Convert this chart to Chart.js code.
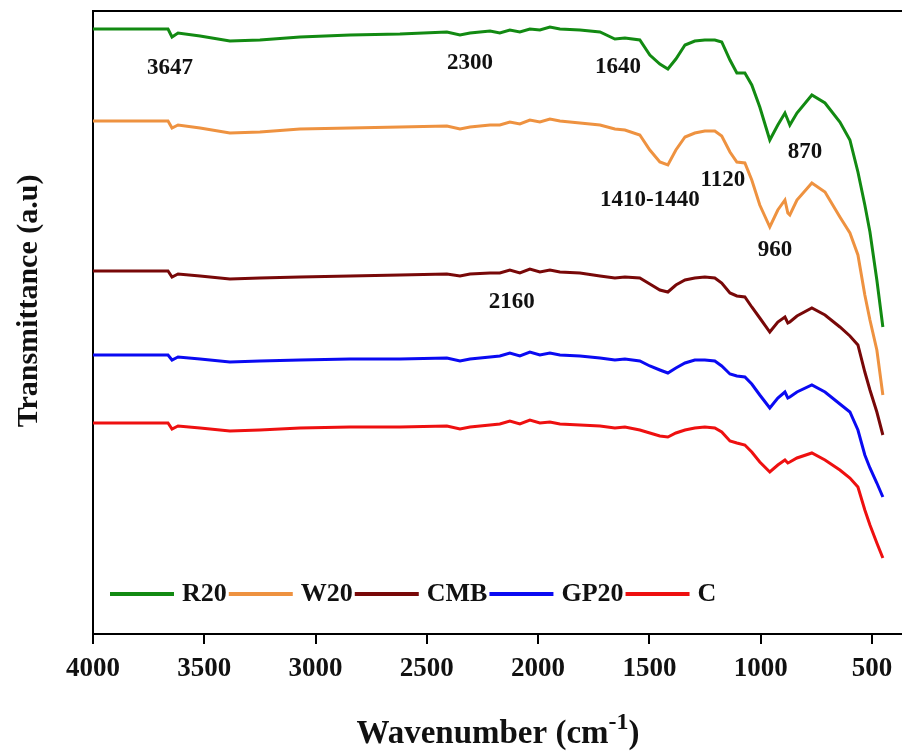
<!DOCTYPE html>
<html>
<head>
    <meta charset="utf-8">
    <script src="https://cdn.jsdelivr.net/npm/chart.js@4.4.0/dist/chart.umd.min.js"></script>
    <style>
        body { margin: 0; background: #fff; overflow: hidden; }
        #ftir { display: block; }
    </style>
</head>
<body>
    <canvas id="ftir" width="902" height="751"></canvas>
    <script>
        // wavenumber (cm-1) shared by all spectra
        const wavenumbers = [4000, 3834, 3663, 3645, 3618, 3519, 3385, 3250, 3070, 2845,
            2621, 2410, 2351, 2306, 2216, 2172, 2127, 2082, 2037, 1992,
            1947, 1902, 1812, 1722, 1655, 1610, 1543, 1498, 1453, 1417,
            1381, 1340, 1296, 1251, 1206, 1175, 1138, 1107, 1071, 1040,
            1004, 959, 923, 891, 878, 869, 837, 770, 711, 644,
            599, 563, 532, 509, 478, 451];

        // transmittance, arbitrary units (curves stacked)
        const r20 = [605, 605, 605, 597, 601, 598, 593, 594, 597, 599,
            600, 602, 599, 601, 603, 601, 604, 602, 605, 604,
            607, 605, 604, 602, 595, 596, 594, 579, 570, 565,
            575, 589, 593, 594, 594, 592, 574, 561, 561, 549,
            527, 494, 509, 521, 514, 509, 521, 539, 531, 512,
            494, 462, 429, 402, 354, 307];
        const w20 = [513, 513, 513, 506, 509, 506, 501, 502, 505, 506,
            507, 508, 505, 507, 509, 509, 512, 510, 514, 512,
            515, 513, 511, 509, 505, 504, 499, 484, 472, 469,
            484, 497, 501, 503, 503, 498, 482, 472, 471, 454,
            429, 407, 424, 434, 421, 419, 434, 451, 442, 417,
            401, 379, 339, 314, 284, 239];
        const cmb = [363, 363, 363, 357, 360, 358, 355, 356, 357, 358,
            359, 360, 358, 360, 361, 361, 364, 361, 365, 362,
            364, 362, 361, 358, 356, 357, 356, 350, 344, 342,
            349, 354, 356, 357, 356, 351, 341, 338, 337, 327,
            316, 302, 312, 317, 311, 312, 318, 326, 319, 307,
            298, 289, 262, 244, 222, 199];
        const gp20 = [279, 279, 279, 274, 277, 275, 272, 273, 274, 275,
            275, 276, 273, 275, 277, 278, 281, 278, 282, 279,
            281, 279, 278, 276, 274, 275, 273, 268, 264, 261,
            266, 271, 274, 274, 273, 268, 260, 258, 257, 250,
            239, 226, 236, 242, 236, 237, 242, 249, 242, 230,
            222, 204, 179, 166, 151, 137];
        const c = [211, 211, 211, 205, 208, 206, 203, 204, 206, 207,
            207, 208, 205, 207, 209, 210, 213, 210, 214, 211,
            212, 210, 209, 208, 206, 207, 204, 201, 198, 197,
            201, 204, 206, 207, 206, 202, 193, 191, 189, 182,
            172, 162, 169, 174, 171, 172, 176, 181, 174, 164,
            156, 147, 124, 109, 91, 76];

        const seriesNames = ['R20', 'W20', 'CMB', 'GP20', 'C'];
        const seriesColors = ['#128a12', '#ee9240', '#780808', '#0a0af2', '#ee1010'];
        const seriesValues = [r20, w20, cmb, gp20, c];

        const xTicks = [4000, 3500, 3000, 2500, 2000, 1500, 1000, 500];

        // peak labels: text, wavenumber, value
        const peakText = ['3647', '2300', '1640', '1410-1440', '1120', '960', '870', '2160'];
        const peakWave = [3654, 2306, 1641, 1498, 1170, 936, 801, 2118];
        const peakVal = [566, 571, 567, 434, 454, 384, 482, 332];

        const serif = "'Liberation Serif', 'Times New Roman', serif";

        const frameAndText = {
            id: 'frameAndText',
            afterDraw: function (chart) {
                const ctx = chart.ctx;
                const area = chart.chartArea;
                const xs = chart.scales.x, ys = chart.scales.y;
                ctx.save();
                // top frame line
                ctx.strokeStyle = '#000';
                ctx.lineWidth = 2;
                ctx.beginPath();
                ctx.moveTo(area.left, area.top);
                ctx.lineTo(chart.width, area.top);
                ctx.stroke();

                // peak labels
                ctx.fillStyle = '#111';
                ctx.font = 'bold 23px ' + serif;
                ctx.textAlign = 'center';
                ctx.textBaseline = 'middle';
                for (let i = 0; i < peakText.length; i++) {
                    ctx.fillText(peakText[i], xs.getPixelForValue(peakWave[i]), ys.getPixelForValue(peakVal[i]));
                }

                // legend inside plot
                let lx = 110;
                const ly = 594;
                ctx.font = 'bold 26px ' + serif;
                ctx.textAlign = 'left';
                chart.data.datasets.forEach(function (ds) {
                    ctx.strokeStyle = ds.borderColor;
                    ctx.lineWidth = 4;
                    ctx.beginPath();
                    ctx.moveTo(lx, ly);
                    ctx.lineTo(lx + 64, ly);
                    ctx.stroke();
                    ctx.fillStyle = '#111';
                    ctx.fillText(ds.label, lx + 72, ly);
                    lx += 72 + ctx.measureText(ds.label).width + 2;
                });

                // x title with superscript
                ctx.fillStyle = '#111';
                ctx.textBaseline = 'alphabetic';
                const main = 'Wavenumber (cm';
                ctx.font = 'bold 33px ' + serif;
                const w1 = ctx.measureText(main).width;
                const w3 = ctx.measureText(')').width;
                ctx.font = 'bold 24px ' + serif;
                const w2 = ctx.measureText('-1').width;
                let tx = 498 - (w1 + w2 + w3) / 2;
                const ty = 743;
                ctx.font = 'bold 33px ' + serif;
                ctx.fillText(main, tx, ty);
                ctx.font = 'bold 24px ' + serif;
                ctx.fillText('-1', tx + w1, ty - 14);
                ctx.font = 'bold 33px ' + serif;
                ctx.fillText(')', tx + w1 + w2, ty);

                // y title
                ctx.translate(29, 301);
                ctx.rotate(-Math.PI / 2);
                ctx.font = 'bold 30px ' + serif;
                ctx.textAlign = 'center';
                ctx.textBaseline = 'middle';
                ctx.fillText('Transmittance (a.u)', 0, 0);
                ctx.restore();
            }
        };

        const ctx = document.getElementById('ftir').getContext('2d');
        const chart = new Chart(ctx, {
            type: 'line',
            data: {
                datasets: seriesNames.map(function (name, i) {
                    return {
                        label: name,
                        data: wavenumbers.map(function (w, j) { return { x: w, y: seriesValues[i][j] }; }),
                        borderColor: seriesColors[i],
                        backgroundColor: seriesColors[i],
                        borderWidth: 3,
                        pointRadius: 0,
                        tension: 0
                    };
                })
            },
            options: {
                responsive: false,
                animation: false,
                devicePixelRatio: 1,
                layout: { padding: { top: 11, right: 0, left: 0, bottom: 0 } },
                plugins: {
                    legend: { display: false },
                    tooltip: { enabled: false }
                },
                scales: {
                    x: {
                        type: 'linear',
                        reverse: true,
                        min: 365,
                        max: 4000,
                        afterFit: function (scale) { scale.height = 117; },
                        afterBuildTicks: function (scale) {
                            scale.ticks = xTicks.map(function (v) { return { value: v }; });
                        },
                        ticks: {
                            color: '#111',
                            padding: 9,
                            maxRotation: 0,
                            autoSkip: false,
                            font: { family: serif, size: 27, weight: 'bold' },
                            callback: function (v) { return String(v); }
                        },
                        grid: { drawOnChartArea: false, tickLength: 10, color: '#000', lineWidth: 2 },
                        border: { color: '#000', width: 2 }
                    },
                    y: {
                        min: 0,
                        max: 623,
                        afterFit: function (scale) { scale.width = 93; },
                        ticks: { display: false },
                        grid: { display: false },
                        border: { color: '#000', width: 2 }
                    }
                }
            },
            plugins: [frameAndText]
        });
    </script>
</body>
</html>
